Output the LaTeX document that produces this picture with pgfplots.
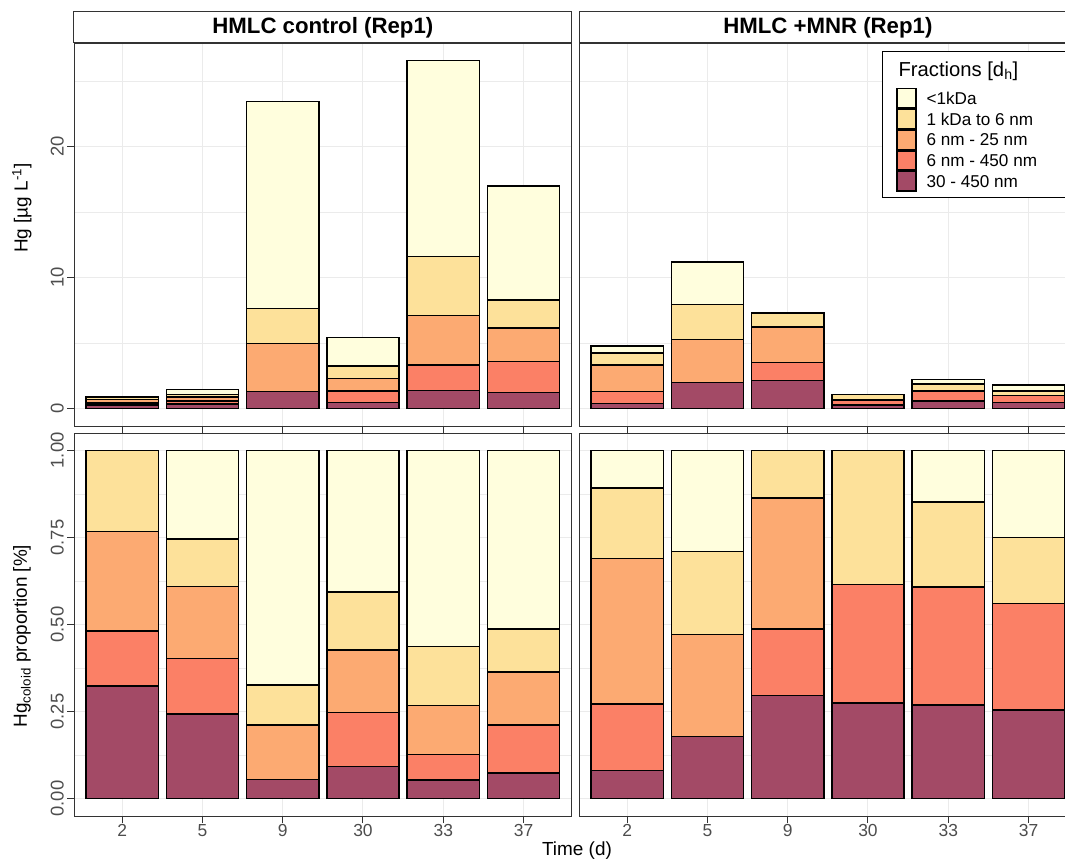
\documentclass[border=0pt]{standalone}
\usepackage{fontspec}
\setmainfont{Liberation Sans}
\usepackage{pgfplots}
\usepackage{pgfplotstable}
\pgfplotsset{compat=1.18}

\definecolor{cA}{HTML}{FFFEDD}
\definecolor{cB}{HTML}{FDE19A}
\definecolor{cC}{HTML}{FCAA72}
\definecolor{cD}{HTML}{FB8066}
\definecolor{cE}{HTML}{A34A66}
\definecolor{grid92}{HTML}{EBEBEB}
\definecolor{grey20}{HTML}{333333}
\definecolor{grey30}{HTML}{4D4D4D}

% e = 30-450 nm, d = 6-450 nm, c = 6-25 nm, b = 1 kDa to 6 nm, a = <1kDa
\pgfplotstableread{
x e d c b a
1 0.29 0.14 0.26 0.21 0.00
2 0.36 0.23 0.30 0.20 0.37
3 1.29 0.00 3.66 2.69 15.79
4 0.46 0.89 0.96 0.94 2.16
5 1.40 1.92 3.79 4.51 14.93
6 1.22 2.36 2.56 2.13 8.73
}\ctrlabs
\pgfplotstableread{
x e d c b a
1 0.38 0.91 2.03 0.94 0.51
2 1.98 0.00 3.30 2.66 3.25
3 2.16 1.37 2.71 1.04 0.00
4 0.29 0.36 0.00 0.42 0.00
5 0.59 0.75 0.00 0.54 0.33
6 0.46 0.55 0.00 0.34 0.45
}\mnrabs
\pgfplotstableread{
x e d c b a
1 0.324 0.157 0.286 0.233 0.000
2 0.243 0.159 0.207 0.136 0.255
3 0.055 0.000 0.156 0.115 0.674
4 0.092 0.156 0.179 0.167 0.406
5 0.053 0.074 0.140 0.170 0.563
6 0.073 0.138 0.152 0.124 0.513
}\ctrprop
\pgfplotstableread{
x e d c b a
1 0.081 0.191 0.418 0.202 0.108
2 0.178 0.000 0.294 0.237 0.291
3 0.296 0.191 0.377 0.136 0.000
4 0.275 0.340 0.000 0.385 0.000
5 0.269 0.339 0.000 0.244 0.148
6 0.254 0.307 0.000 0.189 0.250
}\mnrprop

\pgfplotsset{
  panel/.style={
    scale only axis, width=497.7bp,
    xmin=0.4, xmax=6.6,
    ybar stacked, bar width=0.9,
    xtick={1,2,3,4,5,6},
    tick align=outside, tick pos=left,
    major tick length=7bp, minor tick length=0pt,
    major tick style={grey20, line width=1bp},
    xmajorgrids, ymajorgrids, yminorgrids,
    major grid style={grid92, line width=1bp},
    minor grid style={grid92, line width=0.5bp},
    axis line style={grey20, line width=1bp},
    tick label style={text=grey30},
    xticklabel style={font=\fontsize{17.5}{17.5}\selectfont, anchor=north, inner sep=0pt, yshift=-1bp},
    yticklabel style={font=\fontsize{18.5}{18.5}\selectfont, rotate=90, anchor=south, inner sep=0pt, yshift=3bp},
    label style={font=\fontsize{19}{19}\selectfont, text=black},
    every axis title shift=0pt,
    title style={at={(0.5,1)}, anchor=south, draw=grey20, line width=1bp, fill=white,
      minimum width=497.7bp, minimum height=31bp, inner sep=0pt,
      font=\fontsize{22.3}{22.3}\selectfont\bfseries, text=black},
    legend image code/.code={\draw[##1, draw=black, line width=1.5bp] (0bp,-9.65bp) rectangle (19bp,9.65bp);},
  },
  toprow/.style={panel, height=382.7bp, ymin=-1.3275, ymax=27.8775,
    ytick={0,10,20}, yticklabels={0,10,20}, minor ytick={5,15,25}, xticklabels={,,,,,}},
  botrow/.style={panel, height=383bp, ymin=-0.05, ymax=1.05,
    ytick={0,0.25,0.5,0.75,1}, yticklabels={0.00,0.25,0.50,0.75,1.00},
    minor ytick={0.125,0.375,0.625,0.875}, xticklabels={2,5,9,30,33,37}},
  rightcol/.style={ytick pos=right, yticklabels={,,,,,}},
  seg/.style={fill=#1, draw=black, line width=1.5bp},
}

\begin{document}
\begin{tikzpicture}
\path[use as bounding box] (0,0) rectangle (1065bp,-862bp);
\clip (0,0) rectangle (1065bp,-862bp);

% top left
\begin{axis}[toprow, at={(74bp,-43.3bp)}, anchor=north west,
  title={HMLC control (Rep1)},
  ylabel={Hg [µg L\textsuperscript{-1}]},
  ylabel style={at={(axis description cs:-0.1045,0.5696)}, anchor=center}]
\addplot[seg=cE] table[x=x,y=e]{\ctrlabs};
\addplot[seg=cD] table[x=x,y=d]{\ctrlabs};
\addplot[seg=cC] table[x=x,y=c]{\ctrlabs};
\addplot[seg=cB] table[x=x,y=b]{\ctrlabs};
\addplot[seg=cA] table[x=x,y=a]{\ctrlabs};
\end{axis}

% top right
\begin{axis}[toprow, rightcol, at={(579bp,-43.3bp)}, anchor=north west,
  title={HMLC +MNR (Rep1)},
  reverse legend, legend cell align=left,
  legend style={at={(0.609,0.981)}, anchor=north west, draw=black, line width=1bp,
    fill=white, inner xsep=13.5bp, inner ysep=6bp, row sep=0pt,
    font=\fontsize{17.2}{17.2}\selectfont, nodes={inner sep=0pt, text depth={}},
    /tikz/every odd column/.append style={column sep=10bp}}]
\addplot[seg=cE] table[x=x,y=e]{\mnrabs};
\addlegendentry{30 - 450 nm}
\addplot[seg=cD] table[x=x,y=d]{\mnrabs};
\addlegendentry{6 nm - 450 nm}
\addplot[seg=cC] table[x=x,y=c]{\mnrabs};
\addlegendentry{6 nm - 25 nm}
\addplot[seg=cB] table[x=x,y=b]{\mnrabs};
\addlegendentry{1 kDa to 6 nm}
\addplot[seg=cA] table[x=x,y=a]{\mnrabs};
\addlegendentry{<1kDa}
\addlegendimage{empty legend}
\addlegendentry{\hspace*{-28bp}\makebox[164.5bp][l]{\fontsize{20.3}{20.3}\selectfont Fractions [d\textsubscript{h}]}\rule[-11.7bp]{0pt}{30.7bp}}
\end{axis}

% bottom left
\begin{axis}[botrow, at={(74bp,-433bp)}, anchor=north west,
  ylabel={Hg\textsubscript{coloid} proportion [\%]},
  ylabel style={at={(axis description cs:-0.1045,0.47)}, anchor=center},
  xlabel={Time (d)},
  xlabel style={at={(axis description cs:1.0106,-0.0901)}, anchor=center}]
\addplot[seg=cE] table[x=x,y=e]{\ctrprop};
\addplot[seg=cD] table[x=x,y=d]{\ctrprop};
\addplot[seg=cC] table[x=x,y=c]{\ctrprop};
\addplot[seg=cB] table[x=x,y=b]{\ctrprop};
\addplot[seg=cA] table[x=x,y=a]{\ctrprop};
\end{axis}

% bottom right
\begin{axis}[botrow, rightcol, at={(579bp,-433bp)}, anchor=north west]
\addplot[seg=cE] table[x=x,y=e]{\mnrprop};
\addplot[seg=cD] table[x=x,y=d]{\mnrprop};
\addplot[seg=cC] table[x=x,y=c]{\mnrprop};
\addplot[seg=cB] table[x=x,y=b]{\mnrprop};
\addplot[seg=cA] table[x=x,y=a]{\mnrprop};
\end{axis}
\end{tikzpicture}
\end{document}
